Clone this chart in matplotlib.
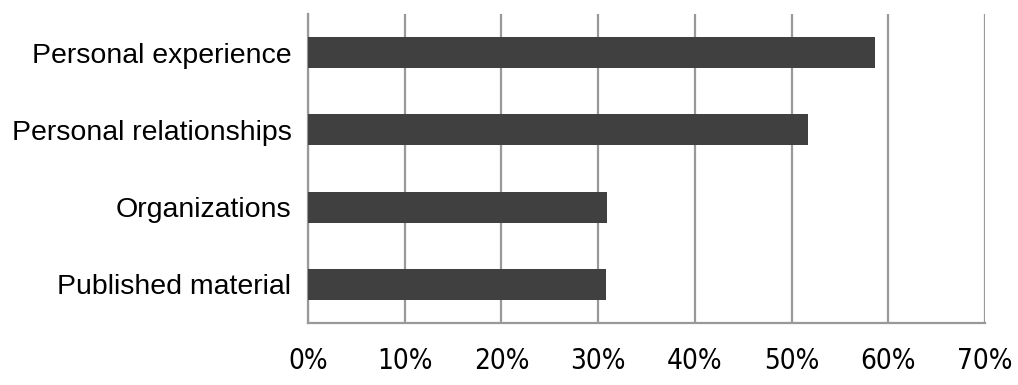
import matplotlib
matplotlib.use("Agg")
import matplotlib.pyplot as plt
from matplotlib.ticker import FuncFormatter

categories = ["Personal experience", "Personal relationships", "Organizations", "Published material"]
values = [58.6, 51.7, 30.9, 30.8]
xticks = [0, 10, 20, 30, 40, 50, 60, 70]

fig = plt.figure(figsize=(10.18, 3.85), dpi=100)
ax = fig.add_axes([0.3026, 0.161, 0.665, 0.8025])

ypos = list(range(len(categories)))
ax.barh(ypos, values, height=0.4, color="#404040", zorder=3)
ax.set_ylim(len(categories) - 0.5, -0.5)
ax.set_xlim(0, 70)
ax.set_xticks(xticks)
ax.xaxis.set_major_formatter(FuncFormatter(lambda v, p: f"{v:.0f}%"))
ax.set_yticks(ypos)
ax.set_yticklabels(categories, fontsize=20.5, family=["Liberation Sans", "DejaVu Sans"])
for lab in ax.get_xticklabels():
    lab.set_fontsize(20)
    lab.set_family("DejaVu Sans")
    lab.set_fontstretch("condensed")

ax.grid(axis="x", color="#999999", lw=1.6, zorder=0)
for s in ("top", "right"):
    ax.spines[s].set_visible(False)
for s in ("left", "bottom"):
    ax.spines[s].set_color("#999999")
    ax.spines[s].set_linewidth(1.6)
ax.tick_params(axis="both", length=0)
ax.tick_params(axis="x", pad=17)
ax.tick_params(axis="y", pad=12)

fig.savefig("out.png", dpi=100)
